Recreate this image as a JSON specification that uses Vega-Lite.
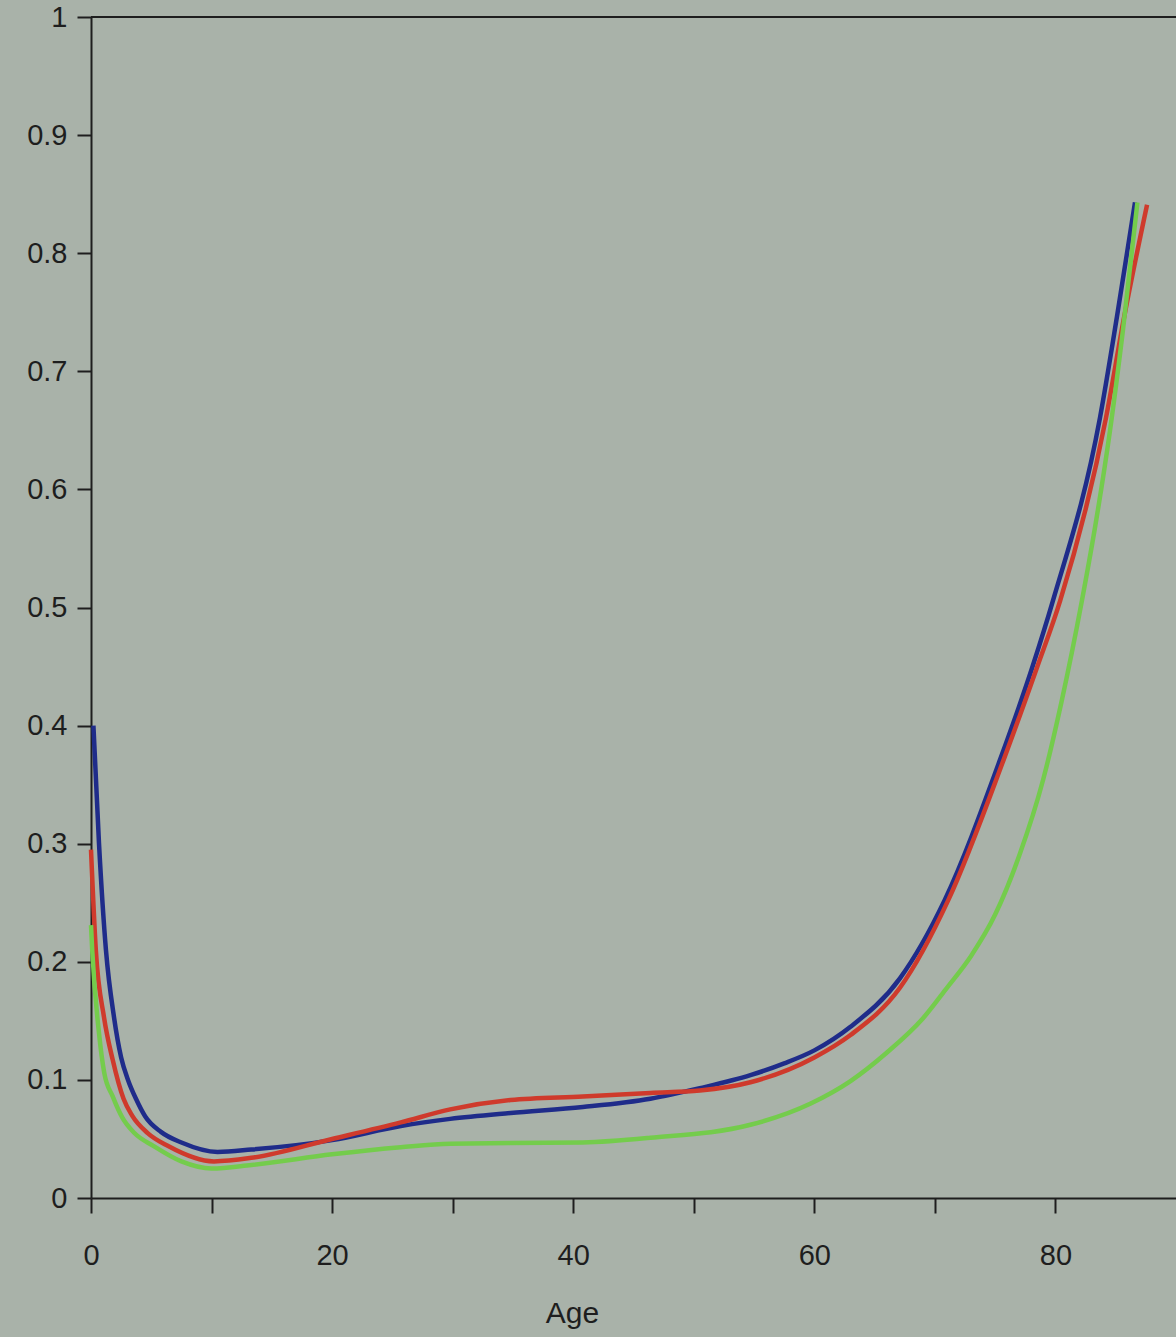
{
  "$schema": "https://vega.github.io/schema/vega-lite/v6.json",
  "autosize": {"type": "none"},
  "padding": {"left": 91, "top": 17, "right": 0, "bottom": 139},
  "width": 1085,
  "height": 1181,
  "background": "#a9b2a9",
  "config": {
    "view": {"stroke": null},
    "font": "Liberation Sans",
    "axis": {"grid": false, "domainColor": "#1e1e1e", "tickColor": "#1e1e1e", "labelColor": "#1e1e1e", "titleColor": "#1e1e1e", "domainWidth": 2, "tickWidth": 2, "labelFont": "Liberation Sans", "titleFont": "Liberation Sans", "labelFontSize": 29, "titleFontSize": 30, "titleFontWeight": "normal"}
  },
  "datasets": {
    "curves": [
      {"series": "blue", "age": 0.2, "value": 0.400},
      {"series": "blue", "age": 0.66, "value": 0.301},
      {"series": "blue", "age": 1.24, "value": 0.210},
      {"series": "blue", "age": 1.91, "value": 0.153},
      {"series": "blue", "age": 2.5, "value": 0.119},
      {"series": "blue", "age": 3.07, "value": 0.100},
      {"series": "blue", "age": 3.73, "value": 0.084},
      {"series": "blue", "age": 4.5, "value": 0.069},
      {"series": "blue", "age": 5.8, "value": 0.056},
      {"series": "blue", "age": 7.5, "value": 0.047},
      {"series": "blue", "age": 10.5, "value": 0.039},
      {"series": "blue", "age": 13.3, "value": 0.041},
      {"series": "blue", "age": 20, "value": 0.049},
      {"series": "blue", "age": 25.7, "value": 0.061},
      {"series": "blue", "age": 29.8, "value": 0.067},
      {"series": "blue", "age": 34.8, "value": 0.072},
      {"series": "blue", "age": 40.8, "value": 0.077},
      {"series": "blue", "age": 46.4, "value": 0.084},
      {"series": "blue", "age": 50.5, "value": 0.093},
      {"series": "blue", "age": 54.7, "value": 0.104},
      {"series": "blue", "age": 57.5, "value": 0.114},
      {"series": "blue", "age": 60, "value": 0.125},
      {"series": "blue", "age": 63.0, "value": 0.145},
      {"series": "blue", "age": 67.1, "value": 0.186},
      {"series": "blue", "age": 70.8, "value": 0.252},
      {"series": "blue", "age": 75.4, "value": 0.371},
      {"series": "blue", "age": 78.1, "value": 0.450},
      {"series": "blue", "age": 79.8, "value": 0.506},
      {"series": "blue", "age": 83.7, "value": 0.661},
      {"series": "blue", "age": 85.1, "value": 0.746},
      {"series": "blue", "age": 86.6, "value": 0.843},
      {"series": "red", "age": 0.0, "value": 0.295},
      {"series": "red", "age": 0.4, "value": 0.210},
      {"series": "red", "age": 1.08, "value": 0.153},
      {"series": "red", "age": 1.8, "value": 0.117},
      {"series": "red", "age": 2.7, "value": 0.084},
      {"series": "red", "age": 3.4, "value": 0.070},
      {"series": "red", "age": 4.7, "value": 0.055},
      {"series": "red", "age": 6.4, "value": 0.044},
      {"series": "red", "age": 10.2, "value": 0.031},
      {"series": "red", "age": 13.3, "value": 0.034},
      {"series": "red", "age": 20, "value": 0.050},
      {"series": "red", "age": 25.7, "value": 0.064},
      {"series": "red", "age": 29.8, "value": 0.075},
      {"series": "red", "age": 34.8, "value": 0.083},
      {"series": "red", "age": 40.8, "value": 0.086},
      {"series": "red", "age": 46.4, "value": 0.089},
      {"series": "red", "age": 50.5, "value": 0.091},
      {"series": "red", "age": 54.7, "value": 0.098},
      {"series": "red", "age": 60, "value": 0.119},
      {"series": "red", "age": 63, "value": 0.138},
      {"series": "red", "age": 67.1, "value": 0.178},
      {"series": "red", "age": 71.1, "value": 0.252},
      {"series": "red", "age": 75.7, "value": 0.371},
      {"series": "red", "age": 78.5, "value": 0.450},
      {"series": "red", "age": 80.4, "value": 0.506},
      {"series": "red", "age": 84.2, "value": 0.661},
      {"series": "red", "age": 85.7, "value": 0.746},
      {"series": "red", "age": 87.6, "value": 0.841},
      {"series": "green", "age": 0.0, "value": 0.231},
      {"series": "green", "age": 0.1, "value": 0.210},
      {"series": "green", "age": 0.66, "value": 0.140},
      {"series": "green", "age": 1.1, "value": 0.106},
      {"series": "green", "age": 1.8, "value": 0.086},
      {"series": "green", "age": 2.6, "value": 0.068},
      {"series": "green", "age": 3.6, "value": 0.055},
      {"series": "green", "age": 5.2, "value": 0.044},
      {"series": "green", "age": 7.5, "value": 0.031},
      {"series": "green", "age": 10, "value": 0.025},
      {"series": "green", "age": 13.3, "value": 0.028},
      {"series": "green", "age": 20, "value": 0.037},
      {"series": "green", "age": 25.7, "value": 0.043},
      {"series": "green", "age": 29.8, "value": 0.046},
      {"series": "green", "age": 40.8, "value": 0.047},
      {"series": "green", "age": 46.4, "value": 0.051},
      {"series": "green", "age": 54.7, "value": 0.062},
      {"series": "green", "age": 59.7, "value": 0.080},
      {"series": "green", "age": 63, "value": 0.099},
      {"series": "green", "age": 66, "value": 0.123},
      {"series": "green", "age": 69, "value": 0.152},
      {"series": "green", "age": 71, "value": 0.178},
      {"series": "green", "age": 73, "value": 0.205},
      {"series": "green", "age": 75, "value": 0.240},
      {"series": "green", "age": 77, "value": 0.290},
      {"series": "green", "age": 79, "value": 0.355},
      {"series": "green", "age": 80.5, "value": 0.420},
      {"series": "green", "age": 82.2, "value": 0.506},
      {"series": "green", "age": 83.4, "value": 0.575},
      {"series": "green", "age": 84.5, "value": 0.648},
      {"series": "green", "age": 85.6, "value": 0.735},
      {"series": "green", "age": 86.8, "value": 0.843}
    ],
    "frame": [{"top": 1}]
  },
  "layer": [
    {
      "data": {"name": "curves"},
      "mark": {"type": "line", "interpolate": "monotone", "strokeWidth": 4.5, "strokeCap": "butt"},
      "encoding": {
        "x": {
          "field": "age", "type": "quantitative",
          "scale": {"domain": [0, 90], "nice": false, "zero": false},
          "axis": {
            "title": "Age",
            "values": [0, 10, 20, 30, 40, 50, 60, 70, 80],
            "labelExpr": "datum.value % 20 == 0 ? datum.label : ''",
            "tickSize": 15, "labelPadding": 28, "labelFlush": false,
            "titleX": 481, "titleY": 124, "titleBaseline": "alphabetic", "titleAlign": "center"
          }
        },
        "y": {
          "field": "value", "type": "quantitative",
          "scale": {"domain": [0, 1], "nice": false},
          "axis": {
            "title": null,
            "values": [0, 0.1, 0.2, 0.3, 0.4, 0.5, 0.6, 0.7, 0.8, 0.9, 1],
            "format": ".1~f",
            "tickSize": 14, "labelPadding": 10
          }
        },
        "color": {
          "field": "series", "type": "nominal",
          "scale": {"domain": ["green", "red", "blue"], "range": ["#74cc4c", "#cf3a2c", "#1f2c8a"]},
          "legend": null
        }
      }
    },
    {
      "data": {"name": "frame"},
      "mark": {"type": "rule", "color": "#1e1e1e", "strokeWidth": 2},
      "encoding": {"y": {"field": "top", "type": "quantitative"}}
    }
  ]
}
